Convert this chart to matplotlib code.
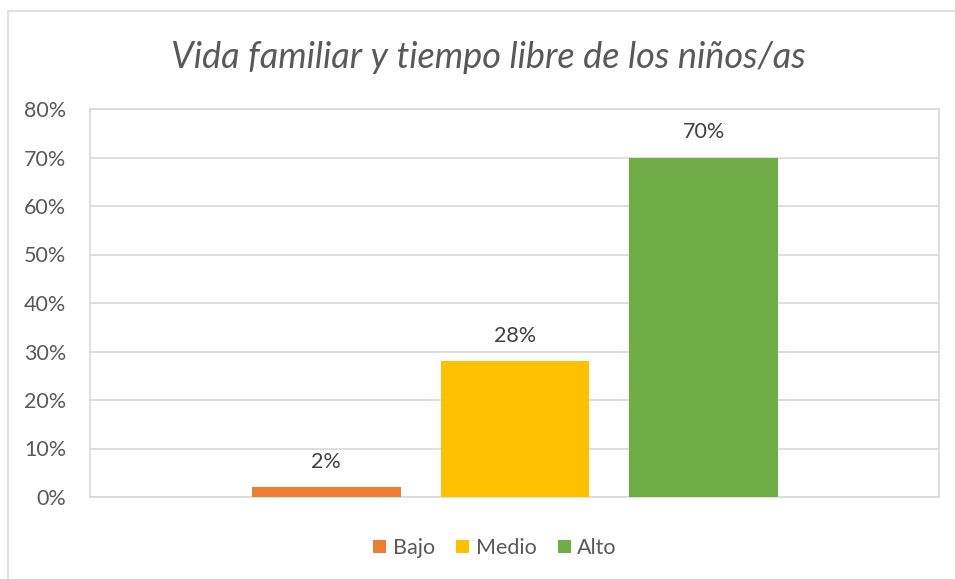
import matplotlib
matplotlib.use("Agg")
import matplotlib.pyplot as plt
from matplotlib.patches import Rectangle

# data
series = ["Bajo", "Medio", "Alto"]
values = [0.02, 0.28, 0.70]
labels = ["2%", "28%", "70%"]
colors = ["#ED7D31", "#FFC000", "#70AD47"]
yticks = [0, 0.1, 0.2, 0.3, 0.4, 0.5, 0.6, 0.7, 0.8]

plt.rcParams['font.family'] = ['Lato', 'DejaVu Sans']

fig = plt.figure(figsize=(9.55, 5.79), dpi=100)
ax = fig.add_axes([90/955, 1 - 497/579, 849/955, 388/579])

# outer chart frame
fig.patches.append(Rectangle((8/955, -0.05), 1.1, 1 - 11/579 + 0.05, transform=fig.transFigure,
                             fill=False, edgecolor="#D9D9D9", linewidth=1.2))

offsets = [-1, 0, 1]
for name, v, lab, c, off in zip(series, values, labels, colors, offsets):
    ax.bar(off, v, width=0.788, color=c, label=name, zorder=3)
    ax.annotate(lab, (off, v), xytext=(0, 18.5), textcoords="offset points",
                ha="center", va="center", fontsize=15.5, color="#404040")

ax.set_xlim(-2.251, 2.246)
ax.set_ylim(0, 0.8)
ax.set_yticks(yticks)
ax.set_yticklabels([f"{int(round(t*100))}%" for t in yticks], fontsize=15.5, color="#595959")
ax.set_xticks([])
ax.tick_params(axis="y", length=0, pad=17)
ax.grid(axis="y", color="#D9D9D9", linewidth=1.2, zorder=0)
for s in ax.spines.values():
    s.set_color("#D9D9D9")
    s.set_linewidth(1.2)

fig.text(488/955, 1 - 57/579, "Vida familiar y tiempo libre de los niños/as", ha="center", va="center",
         fontsize=26, style="italic", color="#595959")

fig.legend(loc="center", bbox_to_anchor=(495/955, 1 - 548/579), ncol=3, frameon=False,
           fontsize=15.5, handlelength=0.6, handleheight=0.6, handletextpad=0.3, columnspacing=1.0,
           labelcolor="#595959")

fig.savefig("out.png", dpi=100)
